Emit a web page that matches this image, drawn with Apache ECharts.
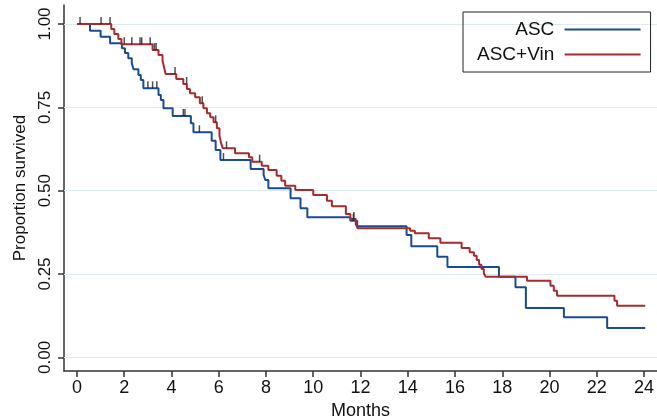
<!DOCTYPE html>
<html><head><meta charset="utf-8">
<script src="https://cdn.jsdelivr.net/npm/echarts@6/dist/echarts.min.js"></script>
<style>html,body{margin:0;padding:0;background:#fff}#c{width:657px;height:418px}</style>
</head><body><div id="c"></div>
<script>
// Kaplan-Meier step points: time (months) where survival drops, and the new survival value
const ascTime = [0, 0.55, 1.0, 1.4, 1.9, 2.03, 2.17, 2.32, 2.39, 2.6, 2.7, 2.81, 3.45, 3.55, 3.66, 4.05, 4.82, 4.93, 5.7, 5.87, 6.07, 7.35, 7.9, 7.97, 8.1, 9.04, 9.46, 9.75, 11.57, 11.86, 13.95, 14.15, 15.25, 15.68, 17.86, 18.56, 19.0, 20.61, 22.44, 24.05];
const ascSurv = [1, 0.98, 0.962, 0.942, 0.927, 0.913, 0.897, 0.882, 0.864, 0.847, 0.832, 0.807, 0.787, 0.772, 0.747, 0.724, 0.702, 0.675, 0.65, 0.622, 0.592, 0.565, 0.547, 0.532, 0.507, 0.477, 0.447, 0.42, 0.41, 0.393, 0.367, 0.333, 0.302, 0.271, 0.242, 0.21, 0.148, 0.12, 0.088, 0.088];
const vinTime = [0, 1.45, 1.58, 1.75, 1.88, 3.2, 3.45, 3.62, 3.68, 3.75, 4.2, 4.5, 4.65, 4.78, 5.0, 5.2, 5.35, 5.5, 5.64, 5.78, 5.92, 6.03, 6.09, 6.17, 6.69, 7.28, 7.42, 7.82, 8.1, 8.45, 8.65, 8.81, 9.24, 10.0, 10.58, 10.79, 11.38, 11.57, 11.8, 11.88, 14.1, 14.3, 14.89, 15.38, 16.28, 16.62, 16.8, 16.92, 17.02, 17.12, 17.22, 17.3, 19.05, 20.04, 20.18, 20.32, 22.75, 22.86, 24.05];
const vinSurv = [1, 0.985, 0.97, 0.955, 0.939, 0.922, 0.907, 0.89, 0.872, 0.85, 0.835, 0.82, 0.805, 0.792, 0.78, 0.762, 0.747, 0.732, 0.72, 0.705, 0.687, 0.665, 0.645, 0.627, 0.612, 0.6, 0.587, 0.575, 0.562, 0.545, 0.53, 0.515, 0.502, 0.487, 0.47, 0.453, 0.43, 0.415, 0.4, 0.387, 0.38, 0.372, 0.357, 0.344, 0.328, 0.315, 0.305, 0.292, 0.278, 0.265, 0.252, 0.242, 0.23, 0.215, 0.2, 0.185, 0.17, 0.155, 0.155];
// censoring times (tick marks)
const ascCensor = [3.0, 3.2, 3.38, 4.5, 4.57, 5.18, 6.2, 11.7];
const vinCensor = [0.13, 1.02, 1.4, 2.0, 2.32, 2.67, 2.74, 3.1, 3.28, 3.35, 4.15, 4.64, 5.3, 5.87, 6.33, 7.73, 11.72];
const xTicks = [0, 2, 4, 6, 8, 10, 12, 14, 16, 18, 20, 22, 24];
const yTicks = [0, 0.25, 0.5, 0.75, 1];

const zip = (a, b) => a.map((v, i) => [v, b[i]]);
const survAt = (times, surv, t) => { let s = surv[0]; for (let i = 0; i < times.length; i++) { if (times[i] <= t) s = surv[i]; } return s; };
const FONT = 'Liberation Sans';
const BLUE = '#1b4b8f', RED = '#a62b2e';

const chart = echarts.init(document.getElementById('c'));
chart.setOption({
  animation: false,
  textStyle: { fontFamily: FONT },
  grid: { left: 64, right: 0, top: 5, bottom: 47, containLabel: false, outerBoundsMode: 'none' },
  xAxis: {
    type: 'value', min: -0.55, max: 24.55,
    name: 'Months', nameLocation: 'middle', nameGap: 29,
    nameTextStyle: { fontSize: 18, color: '#111', fontFamily: FONT },
    axisLine: { onZero: false, lineStyle: { color: '#333', width: 1.5 } },
    axisTick: { customValues: xTicks, length: 6, lineStyle: { color: '#333', width: 1.5 } },
    axisLabel: { customValues: xTicks, fontSize: 18, color: '#111', margin: 8, fontFamily: FONT },
    splitLine: { show: false }
  },
  yAxis: {
    type: 'value', min: -0.041, max: 1.057,
    name: 'Proportion survived', nameLocation: 'middle', nameGap: 35,
    nameTextStyle: { fontSize: 17, color: '#111', fontFamily: FONT },
    axisLine: { show: true, onZero: false, lineStyle: { color: '#333', width: 1.5 } },
    axisTick: { show: true, customValues: yTicks, length: 6, lineStyle: { color: '#333', width: 1.5 } },
    axisLabel: { customValues: yTicks, rotate: 90, fontSize: 17, color: '#111', margin: 10, fontFamily: FONT,
      formatter: v => v.toFixed(2) },
    splitLine: { show: false }
  },
  legend: {
    data: ['ASC', 'ASC+Vin'], orient: 'vertical', left: 463, top: 12, align: 'right',
    icon: 'rect', itemWidth: 76, itemHeight: 2, itemGap: 6,
    borderColor: '#222', borderWidth: 1, borderRadius: 0, padding: [8, 10, 8, 14],
    formatter: n => n + ' ',
    textStyle: { fontSize: 19, color: '#111', fontFamily: FONT }
  },
  series: [
    { name: 'ASC', type: 'line', step: 'end', symbol: 'none', data: zip(ascTime, ascSurv),
      color: BLUE, lineStyle: { width: 2, color: BLUE }, z: 3,
      markLine: { silent: true, symbol: 'none', label: { show: false },
        lineStyle: { color: '#dfeaef', width: 1.2, type: 'solid' },
        data: yTicks.map(v => ({ yAxis: v })), z: 1 } },
    { name: 'ASC+Vin', type: 'line', step: 'end', symbol: 'none', data: zip(vinTime, vinSurv),
      color: RED, lineStyle: { width: 2, color: RED }, z: 4 },
    { name: 'ASC censored', type: 'scatter', symbol: 'rect', symbolSize: [1.5, 7], symbolOffset: [0, -3.5],
      itemStyle: { color: '#222' }, z: 5,
      data: ascCensor.map(t => [t, survAt(ascTime, ascSurv, t)]) },
    { name: 'ASC+Vin censored', type: 'scatter', symbol: 'rect', symbolSize: [1.5, 7], symbolOffset: [0, -3.5],
      itemStyle: { color: '#222' }, z: 5,
      data: vinCensor.map(t => [t, survAt(vinTime, vinSurv, t)]) }
  ]
});
</script></body></html>
